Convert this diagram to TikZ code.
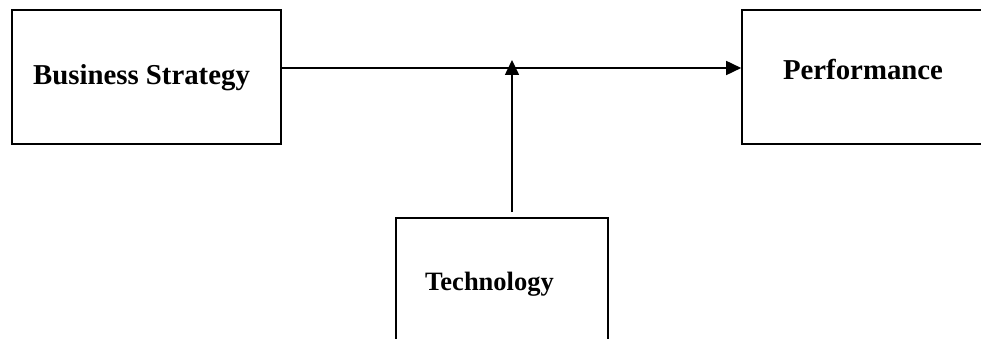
\documentclass[tikz,border=0pt]{standalone}
\usepackage{fontspec}
\setmainfont{Liberation Serif}
\usetikzlibrary{arrows.meta}
\begin{document}
\begin{tikzpicture}[x=1pt,y=-1pt,
  boxnode/.style={draw,line width=1.6pt,rectangle,inner sep=0pt},
  lbl/.style={font=\fontsize{28.8}{30}\selectfont\bfseries,inner sep=0pt,anchor=base},
  conn/.style={line width=1.6pt,-{Triangle[length=15pt,width=14pt]}}]
\useasboundingbox (0,0) rectangle (981,339);
\clip (0,0) rectangle (981,339);
% boxes
\node[boxnode,minimum width=269pt,minimum height=134pt] (bs) at (146.5,77) {};
\node[boxnode,minimum width=242pt,minimum height=134pt] (perf) at (863,77) {};
\node[boxnode,minimum width=212pt,minimum height=130pt] (tech) at (502,283) {};
% labels
\node[lbl] (bst) at (141.5,85) {Business Strategy};
\node[lbl] (pft) at (863,80) {Performance};
\node[lbl,font=\fontsize{26.5}{28}\selectfont\bfseries] (tct) at (489.5,290) {Technology};
% connectors
\coordinate (j) at (512,68);
\coordinate (jt) at (512,60);
\draw[conn] (bs.east |- j) -- (perf.west |- j);
\draw[conn,shorten <=5pt] (tech.north -| jt) -- (jt);
\end{tikzpicture}
\end{document}
